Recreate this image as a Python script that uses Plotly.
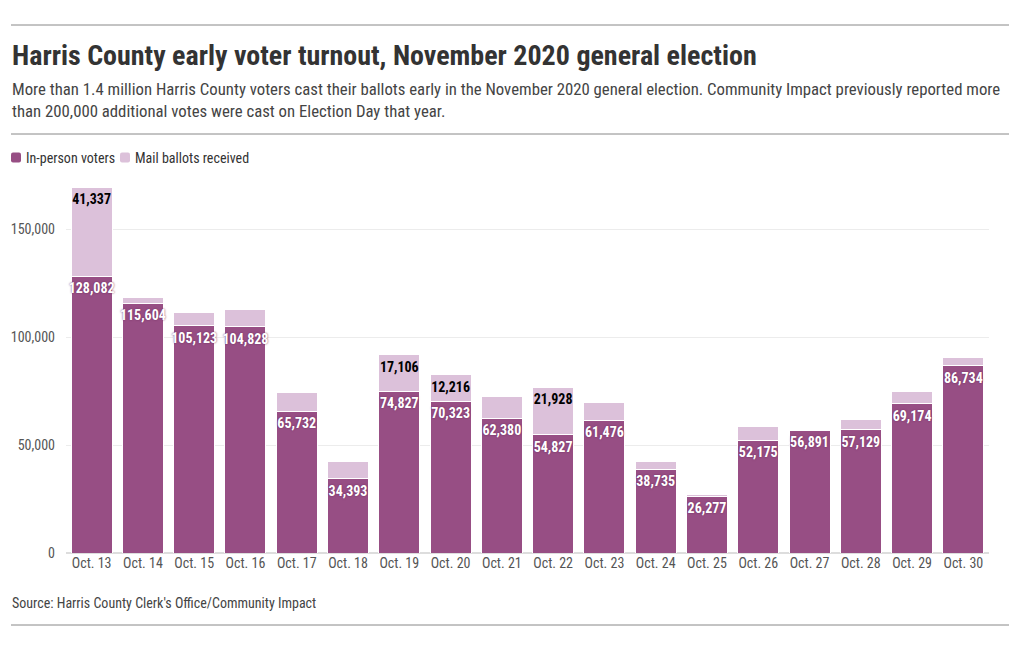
import plotly.graph_objects as go

days = ["Oct. 13", "Oct. 14", "Oct. 15", "Oct. 16", "Oct. 17", "Oct. 18", "Oct. 19",
        "Oct. 20", "Oct. 21", "Oct. 22", "Oct. 23", "Oct. 24", "Oct. 25", "Oct. 26",
        "Oct. 27", "Oct. 28", "Oct. 29", "Oct. 30"]
in_person = [128082, 115604, 105123, 104828, 65732, 34393, 74827, 70323, 62380,
             54827, 61476, 38735, 26277, 52175, 56891, 57129, 69174, 86734]
mail = [41337, 2800, 6000, 7700, 8650, 8200, 17106, 12216, 10000,
        21928, 8100, 3700, 700, 6300, 500, 4800, 5400, 3600]
labeled_mail = {41337, 17106, 12216, 21928}
y_ticks = [0, 50000, 100000, 150000]
series_names = ["In-person voters", "Mail ballots received"]

FONT = "Roboto Condensed, Liberation Sans Narrow, DejaVu Sans Condensed, Roboto, sans-serif"
C_IN = "#974e84"
C_MAIL = "#dcc1da"

OFF = 8  # browser body margin
W, H = 1020 - 2 * OFF, 650 - 2 * OFF
# plot area in reference pixel coordinates
RL, RR, RT, RB = 66, 989, 180, 553
PL, PR, PT, PB = RL - OFF, RR - OFF, RT - OFF, RB - OFF


def px(x):
    return (x - RL) / (RR - RL)


def py(y):
    return (RB - y) / (RB - RT)


fig = go.Figure()
fig.add_trace(go.Bar(
    x=days, y=in_person, name=series_names[0],
    marker=dict(color=C_IN, line=dict(color="white", width=1)),
    hoverinfo="skip", showlegend=False,
))
fig.add_trace(go.Bar(
    x=days, y=mail, name=series_names[1],
    marker=dict(color=C_MAIL, line=dict(color="white", width=1)),
    hoverinfo="skip", showlegend=False,
))

totals = [a + b for a, b in zip(in_person, mail)]
fig.add_trace(go.Scatter(
    x=days, y=in_person, mode="markers+text",
    marker=dict(size=9, opacity=0),
    text=[f"{v:,}" for v in in_person], textposition="bottom center",
    textfont=dict(family=FONT, size=14, color="white", weight="bold",
                  shadow="0 0 2px #6e2d5e"),
    hoverinfo="skip", showlegend=False,
))
fig.add_trace(go.Scatter(
    x=days, y=totals, mode="markers+text",
    marker=dict(size=9, opacity=0),
    text=[f"{m:,}" if m in labeled_mail else "" for m in mail],
    textposition="bottom center",
    textfont=dict(family=FONT, size=14, color="black", weight="bold"),
    hoverinfo="skip", showlegend=False,
))

shapes = []
for yy in (25, 134, 625):
    shapes.append(dict(type="line", xref="paper", yref="paper",
                       x0=px(11), x1=px(1009), y0=py(yy), y1=py(yy),
                       line=dict(color="#888888", width=1)))

rounded = ("M -3,-5 L 3,-5 Q 5,-5 5,-3 L 5,3 Q 5,5 3,5 L -3,5 Q -5,5 -5,3 "
           "L -5,-3 Q -5,-5 -3,-5 Z")
legend_items = [(series_names[0], C_IN, 16, 24), (series_names[1], C_MAIL, 125, 133)]
annotations = []
for name, col, sx, tx in legend_items:
    shapes.append(dict(type="path", xref="paper", yref="paper",
                       xsizemode="pixel", ysizemode="pixel",
                       xanchor=px(sx), yanchor=py(157.5), path=rounded,
                       fillcolor=col, line=dict(width=0)))
    annotations.append(dict(text=name, xref="paper", yref="paper", x=px(tx), y=py(157.5),
                            xanchor="left", yanchor="middle", showarrow=False,
                            font=dict(family=FONT, size=14, color="#333333")))

annotations += [
    dict(text="<b>Harris County early voter turnout, November 2020 general election</b>",
         xref="paper", yref="paper", x=px(10), y=py(55), xanchor="left", yanchor="middle",
         showarrow=False, font=dict(family=FONT, size=28, color="#333333")),
    dict(text="More than 1.4 million Harris County voters cast their ballots early in the November 2020 general election. Community Impact previously reported more<br>than 200,000 additional votes were cast on Election Day that year.",
         xref="paper", yref="paper", x=px(10), y=py(100), xanchor="left", yanchor="middle",
         align="left", showarrow=False,
         font=dict(family=FONT, size=16.75, color="#444444")),
    dict(text="Source: Harris County Clerk's Office/Community Impact",
         xref="paper", yref="paper", x=px(10), y=py(603), xanchor="left", yanchor="middle",
         showarrow=False, font=dict(family=FONT, size=14, color="#444444")),
]

fig.update_layout(
    width=W, height=H,
    margin=dict(l=PL, r=W - PR, t=PT, b=H - PB, pad=0, autoexpand=False),
    barmode="stack", bargap=0.2,
    plot_bgcolor="white", paper_bgcolor="white",
    font=dict(family=FONT, color="#444444"),
    showlegend=False,
    shapes=shapes,
    annotations=annotations,
)
fig.update_xaxes(range=[-0.5, len(days) - 0.5], showgrid=False, ticks="", showline=False,
                 tickfont=dict(family=FONT, size=14, color="#555555"))
fig.update_yaxes(range=[0, (RB - RT) / 0.00216], tickvals=y_ticks,
                 tickformat=",", showgrid=True, gridcolor="#ececec", gridwidth=1,
                 zeroline=True, zerolinecolor="#dddddd", ticks="", showline=False,
                 tickfont=dict(family=FONT, size=14, color="#555555"), ticklabelstandoff=10)

fig.write_html("out.html")
